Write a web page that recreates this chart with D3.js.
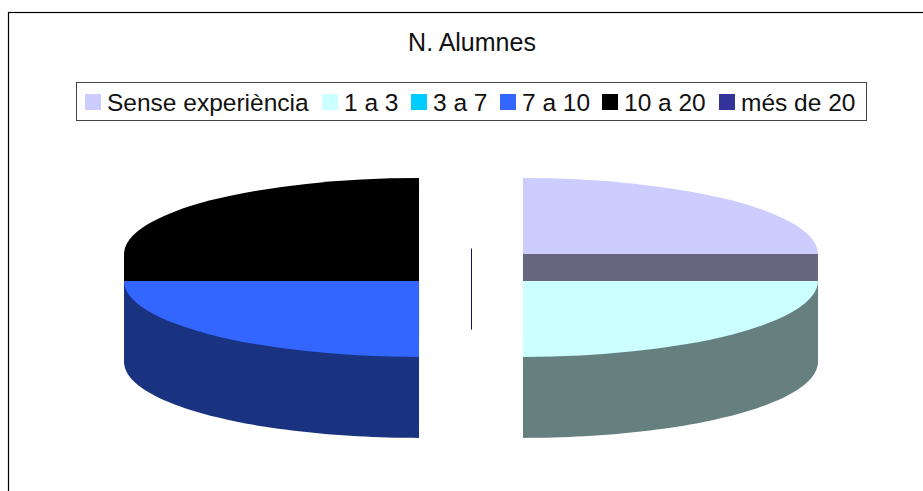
<!DOCTYPE html>
<html>
<head>
<meta charset="utf-8">
<script src="https://cdn.jsdelivr.net/npm/d3@7/dist/d3.min.js"></script>
<style>
html,body{margin:0;padding:0;background:#fff;}
svg{display:block;}
text{font-family:"Liberation Sans",Arial,sans-serif;fill:#111;}
</style>
</head>
<body>
<script>
const chartTitle = "N. Alumnes";
const categories = ["Sense experiència", "1 a 3", "3 a 7", "7 a 10", "10 a 20", "més de 20"];
const values = [1, 1, 0, 1, 1, 0];
const colors = ["#CCCCFF", "#CCFFFF", "#00CCFF", "#3366FF", "#000000", "#333399"];

const width = 923, height = 491;
const cx = 471, cy = 267.5;      // centre of the unexploded pie
const rx = 295, ry = 76;         // ellipse radii of the top face
const depth = 81;                // height of the disc
const explode = 73.5;            // radial slice offset, before foreshortening
const tilt = ry / rx;
const legendLeft = [85, 322, 411, 500, 602, 719];   // left edge of each legend entry

const svg = d3.select("body").append("svg").attr("width", width).attr("height", height);

// Outer frame runs off the right and bottom edges of the page
svg.append("rect").attr("x", 8.5).attr("y", 12.5)
  .attr("width", width + 20).attr("height", height + 20)
  .attr("fill", "#fff").attr("stroke", "#000").attr("stroke-width", 1.2);

svg.append("text").attr("x", 472).attr("y", 51)
  .attr("text-anchor", "middle").attr("font-size", 25).text(chartTitle);

// Legend: swatch and label pairs inside a box
const legend = svg.append("g");
legend.append("rect").attr("x", 76.5).attr("y", 82.5).attr("width", 790).attr("height", 38)
  .attr("fill", "#fff").attr("stroke", "#444").attr("stroke-width", 1);
categories.forEach((name, i) => {
  const lx = legendLeft[i];
  legend.append("rect").attr("x", lx).attr("y", 94).attr("width", 16).attr("height", 16).attr("fill", colors[i]);
  legend.append("text").attr("x", lx + 22).attr("y", 110.5).attr("font-size", 24.5).text(name);
});

// Pie angles: clockwise from the back of the disc
const pie = d3.pie().value(d => d.value).sort(null);
const slices = pie(categories.map((name, i) => ({name, value: values[i], color: colors[i]})));

const arcTop = d3.arc().innerRadius(0).outerRadius(rx);
const rimLine = d3.line();
const px = (c, a) => c.x + rx * Math.sin(a);
const py = (c, a) => c.y - ry * Math.cos(a);

const shade = col => { const c = d3.rgb(col); return d3.rgb(c.r / 2, c.g / 2, c.b / 2).formatHex(); };

// Paint back slices first so the front ones overlap them
const order = slices.slice().sort((a, b) =>
  Math.cos((b.startAngle + b.endAngle) / 2) - Math.cos((a.startAngle + a.endAngle) / 2));

const pieG = svg.append("g");
order.forEach(s => {
  const mid = (s.startAngle + s.endAngle) / 2;
  const c = {
    x: cx + explode * Math.sin(mid),
    y: cy - explode * tilt * Math.cos(mid)
  };
  const side = shade(s.data.color);

  if (s.endAngle === s.startAngle) {
    // An empty slice shows only as the edge of its inner wall, at the back of the disc
    if (Math.cos(mid) > 0) {
      pieG.append("line").attr("x1", c.x + 0.5).attr("x2", c.x + 0.5)
        .attr("y1", c.y).attr("y2", c.y + depth)
        .attr("stroke", "#1a0f66").attr("stroke-width", 1);
    }
    return;
  }

  // Cut walls facing the viewer
  [s.startAngle, s.endAngle].forEach(a => {
    if (Math.cos(a) <= 1e-9) {
      const ex = px(c, a), ey = py(c, a);
      pieG.append("path").attr("fill", side).attr("d", rimLine([
        [c.x, c.y], [ex, ey], [ex, ey + depth], [c.x, c.y + depth]
      ]));
    }
  });

  // Outer rim over the front half of the arc
  const a0 = Math.max(s.startAngle, Math.PI / 2);
  const a1 = Math.min(s.endAngle, 3 * Math.PI / 2);
  if (a1 > a0) {
    const angles = d3.range(0, 61).map(k => a0 + (a1 - a0) * k / 60);
    const pts = angles.map(a => [px(c, a), py(c, a)])
      .concat(angles.slice().reverse().map(a => [px(c, a), py(c, a) + depth]));
    pieG.append("path").attr("fill", side).attr("d", rimLine(pts) + "Z");
  }

  // Top face
  pieG.append("path")
    .attr("transform", `translate(${c.x},${c.y}) scale(1,${tilt})`)
    .attr("fill", s.data.color)
    .attr("d", arcTop({startAngle: s.startAngle, endAngle: s.endAngle}));
});
</script>
</body>
</html>
